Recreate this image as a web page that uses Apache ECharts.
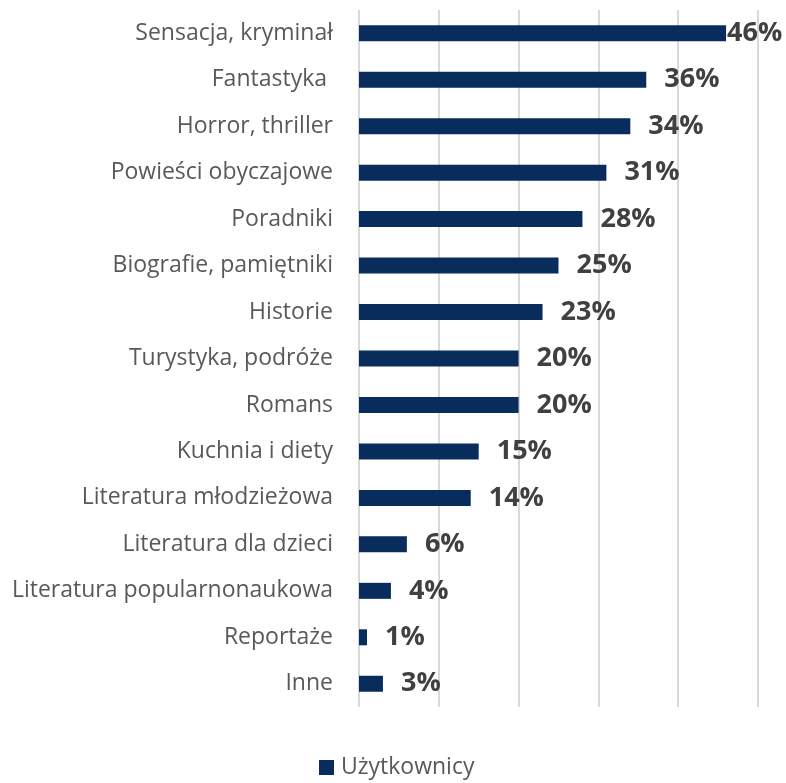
<!DOCTYPE html>
<html>
<head>
<meta charset="utf-8">
<script src="https://cdn.jsdelivr.net/npm/echarts@6/dist/echarts.min.js"></script>
<style>
  html, body { margin: 0; padding: 0; background: #ffffff; }
  #chart { width: 786px; height: 783px; }
</style>
</head>
<body>
<div id="chart"></div>
<script>
const categories = [
  "Sensacja, kryminał",
  "Fantastyka ",
  "Horror, thriller",
  "Powieści obyczajowe",
  "Poradniki",
  "Biografie, pamiętniki",
  "Historie",
  "Turystyka, podróże",
  "Romans",
  "Kuchnia i diety",
  "Literatura młodzieżowa",
  "Literatura dla dzieci",
  "Literatura popularnonaukowa",
  "Reportaże",
  "Inne"
];
const values = [46, 36, 34, 31, 28, 25, 23, 20, 20, 15, 14, 6, 4, 1, 3];
const seriesName = "Użytkownicy";

const chart = echarts.init(document.getElementById("chart"));

const data = values.map((v, i) => {
  const item = { value: v };
  // the top label sits flush against its bar, like in the original
  if (i === 0) item.label = { distance: 1 };
  return item;
});

chart.setOption({
  animation: false,
  textStyle: { fontFamily: "Open Sans" },
  grid: { left: 359, right: 28, top: 10, bottom: 76 },
  legend: {
    bottom: -1,
    left: 314,
    data: [seriesName],
    icon: "rect",
    itemWidth: 15,
    itemHeight: 15,
    itemGap: 8,
    textStyle: { color: "#595959", fontSize: 23, fontFamily: "Open Sans", padding: [0, 0, 0, 2] }
  },
  xAxis: {
    type: "value",
    min: 0,
    max: 50,
    interval: 10,
    axisLabel: { show: false },
    axisLine: { show: false },
    axisTick: { show: false },
    splitLine: { lineStyle: { color: "#d9d9d9", width: 2 } }
  },
  yAxis: {
    type: "category",
    inverse: true,
    data: categories,
    axisLine: { show: false },
    axisTick: { show: false },
    axisLabel: {
      color: "#595959",
      fontSize: 23,
      margin: 26,
      fontFamily: "Open Sans"
    }
  },
  series: [{
    name: seriesName,
    type: "bar",
    data: data,
    barWidth: 16,
    itemStyle: { color: "#082d5c" },
    label: {
      show: true,
      position: "right",
      distance: 18,
      formatter: "{c}%",
      color: "#404040",
      fontSize: 27,
      fontWeight: "bold",
      fontFamily: "Open Sans"
    }
  }]
});
</script>
</body>
</html>
